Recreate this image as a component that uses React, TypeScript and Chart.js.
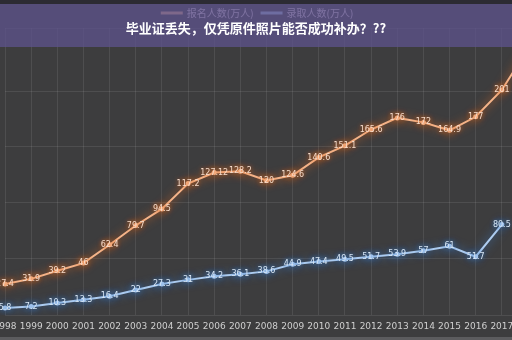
import React, { useEffect, useRef } from "react";
import { Chart, registerables } from "chart.js";

Chart.register(...registerables);

const years = ["1998","1999","2000","2001","2002","2003","2004","2005","2006","2007","2008","2009","2010","2011","2012","2013","2014","2015","2016","2017","2018"];
const applicants = [27.4,31.9,39.2,46,62.4,79.7,94.5,117.2,127.12,128.2,120,124.6,140.6,151.1,165.6,176,172,164.9,177,201,238];
const admitted = [5.8,7.2,10.3,13.3,16.4,22,27.3,31,34.2,36.1,38.6,44.9,47.4,49.5,51.7,53.9,57,61,51.7,80.5,null];
const seriesNames = ["报名人数(万人)", "录取人数(万人)"];
const titleText = "毕业证丢失，仅凭原件照片能否成功补办？??";

const glowColors = ["rgba(235,110,35,0.95)", "rgba(60,125,205,0.95)"];
const labelColors = ["#f6dccb", "#d9e7f5"];
const PX_PER_UNIT = 1.117;
const ZERO_Y = 314.5;

const glowPlugin = {
  id: "glow",
  beforeDatasetDraw(chart: any, args: any) {
    const ctx = chart.ctx;
    ctx.save();
    ctx.shadowColor = glowColors[args.index];
    ctx.shadowBlur = 10;
  },
  afterDatasetDraw(chart: any) {
    chart.ctx.restore();
  },
};

const labelPlugin = {
  id: "valueLabels",
  afterDatasetsDraw(chart: any) {
    const ctx = chart.ctx;
    ctx.save();
    ctx.font = "8px 'DejaVu Sans'";
    ctx.textAlign = "center";
    ctx.textBaseline = "middle";
    chart.data.datasets.forEach((ds: any, i: number) => {
      const meta = chart.getDatasetMeta(i);
      meta.data.forEach((pt: any, j: number) => {
        const v = ds.data[j];
        if (v === null || v === undefined) return;
        ctx.shadowColor = glowColors[i];
        ctx.shadowBlur = 4;
        ctx.fillStyle = labelColors[i];
        ctx.fillText(String(v), pt.x, pt.y);
      });
    });
    ctx.restore();
  },
};

export default function App() {
  const ref = useRef<HTMLCanvasElement | null>(null);
  useEffect(() => {
    if (!ref.current) return;
    const chart: any = new Chart(ref.current, {
      type: "line",
      data: {
        labels: years,
        datasets: [
          {
            label: seriesNames[0],
            data: applicants,
            borderColor: "#f4b48a",
            backgroundColor: "#f4b48a",
            borderWidth: 2,
            pointRadius: 1.5,
            tension: 0,
          },
          {
            label: seriesNames[1],
            data: admitted,
            borderColor: "#aecdf0",
            backgroundColor: "#aecdf0",
            borderWidth: 2,
            pointRadius: 1.5,
            tension: 0,
          },
        ],
      },
      options: {
        animation: false,
        responsive: false,
        layout: { autoPadding: false, padding: { left: 5, right: 12, top: 0, bottom: 2 } },
        plugins: {
          legend: {
            display: true,
            position: "top",
            align: "center",
            labels: {
              color: "#f4e0ee",
              font: { size: 10, family: "'Noto Sans CJK SC'" },
              boxWidth: 20,
              boxHeight: 1,
              padding: 8,
              generateLabels: (c: any) => {
                const items = Chart.defaults.plugins.legend.labels.generateLabels(c);
                items[1].text = items[1].text + "        ";
                return items;
              },
            },
          },
          tooltip: { enabled: false },
        },
        scales: {
          x: {
            offset: false,
            grid: { color: "rgba(255,255,255,0.09)", drawTicks: false },
            border: { display: false },
            ticks: {
              color: "#cfcfcf",
              font: { size: 9, family: "'DejaVu Sans'" },
              padding: 6,
              maxRotation: 0,
              autoSkip: false,
            },
            afterFit: (s: any) => {
              s.paddingLeft = 0;
              s.paddingRight = 0;
            },
          },
          y: {
            min: 0,
            max: 260,
            grid: { color: "rgba(255,255,255,0.09)", drawTicks: false },
            border: { display: false },
            ticks: { display: false, stepSize: 50 },
            afterFit: (s: any) => {
              s.width = 0;
              s.paddingTop = 0;
              s.paddingBottom = 0;
            },
          },
        },
      },
      plugins: [glowPlugin, labelPlugin],
    });
    const area = chart.chartArea;
    const yMin = (ZERO_Y - area.bottom) / PX_PER_UNIT;
    const yMax = yMin + (area.bottom - area.top) / PX_PER_UNIT;
    chart.options.scales.y.min = yMin;
    chart.options.scales.y.max = yMax;
    chart.update();
    return () => chart.destroy();
  }, []);

  return (
    <div style={{ position: "fixed", left: 0, top: 0, width: 512, height: 340, overflow: "hidden", background: "#3d3d3e" }}>
      <canvas ref={ref} width={540} height={340} style={{ position: "absolute", left: 0, top: 0, width: 540, height: 340 }} />
      <div style={{ position: "absolute", left: 0, top: 0, width: 512, height: 4, background: "#2c2b33" }} />
      <div
        style={{
          position: "absolute",
          left: 0,
          top: 4,
          width: 512,
          height: 43,
          background: "rgba(92,82,138,0.78)",
          display: "flex",
          alignItems: "center",
          justifyContent: "center",
          paddingTop: 4,
          boxSizing: "border-box",
          color: "#ffffff",
          fontFamily: "'Noto Sans CJK SC'",
          fontWeight: 700,
          fontSize: 13,
        }}
      >
        {titleText}
      </div>
      <div style={{ position: "absolute", left: 0, top: 337, width: 512, height: 3, background: "#5c5c5e" }} />
    </div>
  );
}
